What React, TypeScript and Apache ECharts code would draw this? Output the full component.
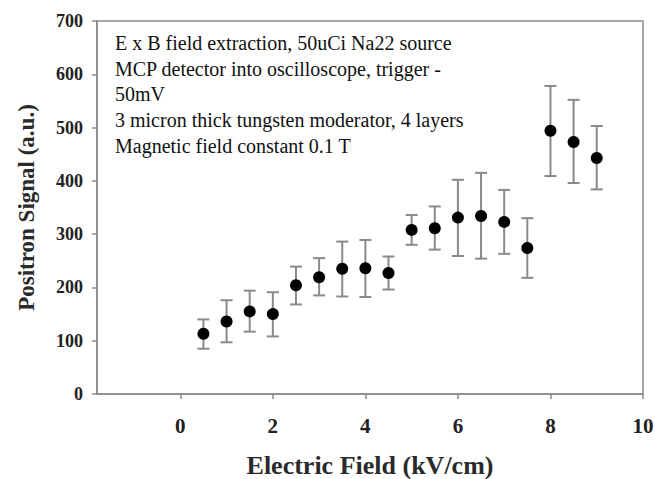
import React, { useEffect, useRef } from "react";
import * as echarts from "echarts";

const fieldKV = [0.5, 1, 1.5, 2, 2.5, 3, 3.5, 4, 4.5, 5, 5.5, 6, 6.5, 7, 7.5, 8, 8.5, 9];
const signal = [113, 136, 155, 150, 204, 219, 235, 236, 227, 308, 311, 331, 334, 323, 274, 494, 473, 443];
const upper = [140, 176, 194, 191, 239, 255, 286, 289, 258, 336, 352, 402, 415, 383, 330, 578, 552, 503];
const lower = [85, 97, 117, 108, 168, 185, 183, 182, 196, 280, 271, 259, 254, 263, 218, 409, 396, 384];
const xTicks = [0, 2, 4, 6, 8, 10];
const noteLines = [
  "E x B field extraction, 50uCi Na22 source",
  "MCP detector into oscilloscope, trigger -",
  "50mV",
  "3 micron thick tungsten moderator, 4 layers",
  "Magnetic field constant 0.1 T",
];

const SERIF = "'Liberation Serif', 'DejaVu Serif', serif";
const AXIS_COLOR = "#8a8a8a";

export default function App() {
  const ref = useRef<HTMLDivElement>(null);
  useEffect(() => {
    if (!ref.current) return;
    const chart = echarts.init(ref.current, null, { renderer: "svg" });
    const errData = fieldKV.map((x, i) => [x, lower[i], upper[i]]);
    chart.setOption({
      animation: false,
      backgroundColor: "#ffffff",
      grid: {
        left: 97,
        right: 12,
        top: 21,
        bottom: 85,
        containLabel: false,
        outerBoundsMode: "none",
        show: true,
        borderColor: AXIS_COLOR,
        borderWidth: 1.5,
      },
      xAxis: {
        type: "value",
        min: -1.8,
        max: 10,
        name: "Electric Field (kV/cm)",
        nameLocation: "middle",
        nameGap: 58,
        nameTextStyle: { fontFamily: SERIF, fontSize: 26, fontWeight: "bold", color: "#2a2a2a" },
        axisLine: { show: true, onZero: false, lineStyle: { color: AXIS_COLOR, width: 1.5 } },
        axisTick: { show: true, customValues: xTicks, length: 5, lineStyle: { color: AXIS_COLOR, width: 1.5 } },
        axisLabel: {
          customValues: xTicks,
          margin: 21,
          fontFamily: SERIF,
          fontSize: 21,
          fontWeight: "bold",
          color: "#222",
        },
        splitLine: { show: false },
      },
      yAxis: {
        type: "value",
        min: 0,
        max: 700,
        interval: 100,
        name: "Positron Signal (a.u.)",
        nameLocation: "middle",
        nameGap: 59,
        nameTextStyle: { fontFamily: SERIF, fontSize: 23, fontWeight: "bold", color: "#2a2a2a" },
        axisLine: { show: true, onZero: false, lineStyle: { color: AXIS_COLOR, width: 1.5 } },
        axisTick: { show: true, length: 5, lineStyle: { color: AXIS_COLOR, width: 1.5 } },
        axisLabel: {
          margin: 14,
          fontFamily: SERIF,
          fontSize: 18,
          fontWeight: "bold",
          color: "#222",
        },
        splitLine: { show: false },
      },
      graphic: [
        {
          type: "text",
          left: 115,
          top: 30,
          style: {
            text: noteLines.join("\n"),
            font: `20px ${SERIF}`,
            lineHeight: 25.7,
            fill: "#111",
          },
        },
      ],
      series: [
        {
          type: "custom",
          data: errData,
          z: 1,
          renderItem: (params: any, api: any) => {
            const x = api.value(0);
            const lo = api.coord([x, api.value(1)]);
            const hi = api.coord([x, api.value(2)]);
            const half = 6;
            const style = { stroke: "#8a8a8a", lineWidth: 2 };
            return {
              type: "group",
              children: [
                { type: "line", shape: { x1: lo[0], y1: lo[1], x2: hi[0], y2: hi[1] }, style },
                { type: "line", shape: { x1: hi[0] - half, y1: hi[1], x2: hi[0] + half, y2: hi[1] }, style },
                { type: "line", shape: { x1: lo[0] - half, y1: lo[1], x2: lo[0] + half, y2: lo[1] }, style },
              ],
            };
          },
        },
        {
          type: "scatter",
          data: fieldKV.map((x, i) => [x, signal[i]]),
          symbol: "circle",
          symbolSize: 12,
          itemStyle: { color: "#000", opacity: 1 },
          z: 3,
        },
      ],
    });
    return () => chart.dispose();
  }, []);
  return <div ref={ref} style={{ width: 655, height: 479, position: "absolute", left: 0, top: 0 }} />;
}
